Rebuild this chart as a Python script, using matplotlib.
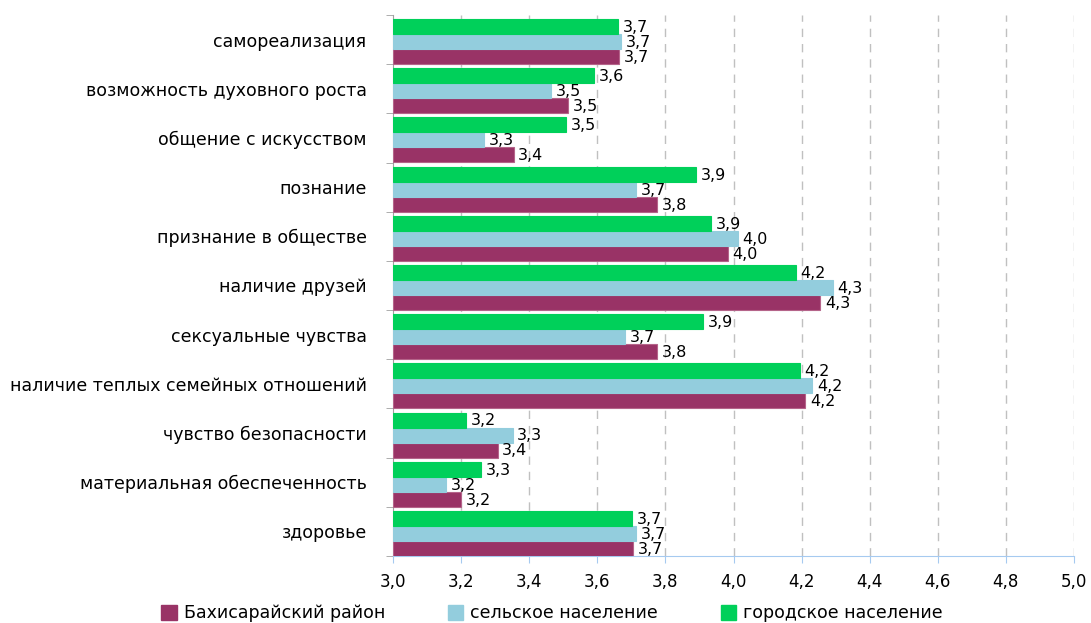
import numpy as np
import matplotlib
matplotlib.use("Agg")
from matplotlib import pyplot as plt
from matplotlib.patches import Patch

plt.rcParams['font.family'] = ['DejaVu Sans']

# categories, bottom to top
categories = ["здоровье", "материальная обеспеченность", "чувство безопасности",
              "наличие теплых семейных отношений", "сексуальные чувства",
              "наличие друзей", "признание в обществе", "познание",
              "общение с искусством", "возможность духовного роста",
              "самореализация"]

rayon = [3.706, 3.199, 3.307, 4.21, 3.775, 4.254, 3.983, 3.775, 3.354, 3.513, 3.664]
rural = [3.714, 3.155, 3.351, 4.232, 3.682, 4.291, 4.013, 3.714, 3.266, 3.463, 3.670]
urban = [3.703, 3.258, 3.214, 4.195, 3.911, 4.183, 3.934, 3.889, 3.507, 3.590, 3.661]

rayon_lbl = ["3,7", "3,2", "3,4", "4,2", "3,8", "4,3", "4,0", "3,8", "3,4", "3,5", "3,7"]
rural_lbl = ["3,7", "3,2", "3,3", "4,2", "3,7", "4,3", "4,0", "3,7", "3,3", "3,5", "3,7"]
urban_lbl = ["3,7", "3,3", "3,2", "4,2", "3,9", "4,2", "3,9", "3,9", "3,5", "3,6", "3,7"]

series_names = ["Бахисарайский район", "сельское население", "городское население"]
colors = ["#993366", "#93CDDD", "#00D05A"]
edges = ["#B5648A", "#93CDDD", "#00D05A"]

xticks = np.arange(3.0, 5.01, 0.2)

fig = plt.figure(figsize=(10.91, 6.23), dpi=100)
ax = fig.add_axes([393/1091, 1 - 556/623, (1074-393)/1091, (556-15)/623])

y = np.arange(len(categories))
h = 0.305
offsets = [-0.5 + 0.155, -0.5 + 0.46, -0.5 + 0.765]

for vals, lbls, off, c, ec in zip([rayon, rural, urban], [rayon_lbl, rural_lbl, urban_lbl],
                                  offsets, colors, edges):
    ax.barh(y + off, np.array(vals) - 3.0, left=3.0, height=h, color=c,
            edgecolor=ec, linewidth=0.8, zorder=3)
    for yi, v, t in zip(y, vals, lbls):
        ax.text(v + 0.014, yi + off - 0.02, t, va="center", ha="left",
                fontsize=11.5, color="black", zorder=4)

ax.set_xlim(3.0, 5.0)
ax.set_ylim(-0.5, len(categories) - 0.5)
ax.set_xticks(xticks)
ax.set_xticklabels([f"{t:.1f}".replace(".", ",") for t in xticks], fontsize=12)
ax.set_yticks(y)
ax.set_yticklabels(categories, fontsize=12.5)
ax.set_yticks(np.arange(-0.5, len(categories), 1.0), minor=True)

ax.tick_params(axis="y", which="major", length=0, pad=19)
ax.tick_params(axis="y", which="minor", length=5, color="#A0A0A0", direction="out")
ax.tick_params(axis="x", length=5, color="#A6CAF0", direction="out", pad=7)

for t in xticks[1:]:
    ax.axvline(t, color="#C0C0C0", linewidth=1, linestyle=(0, (6, 5)), zorder=1)

ax.spines["top"].set_visible(False)
ax.spines["right"].set_visible(False)
ax.spines["left"].set_color("#A0A0A0")
ax.spines["bottom"].set_color("#A6CAF0")

handles = [Patch(facecolor=c, edgecolor=c) for c in colors]
fig.legend(handles, series_names, loc="lower center", bbox_to_anchor=(0.506, -0.024),
           ncol=3, frameon=False, fontsize=12.5, handlelength=0.9, handleheight=0.9,
           handletextpad=0.4, columnspacing=3.6)

fig.savefig("out.png", dpi=100)
